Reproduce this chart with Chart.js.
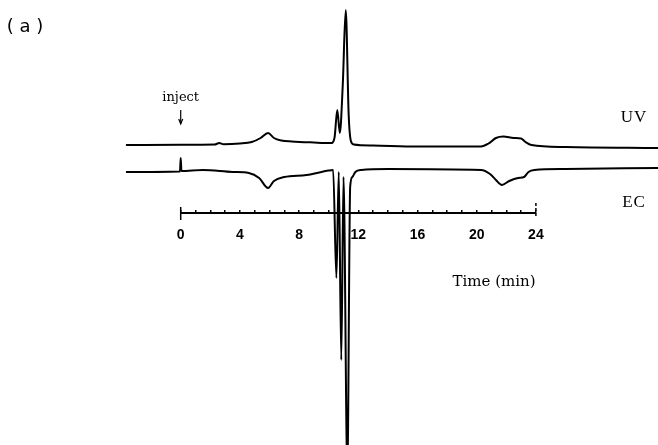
<!DOCTYPE html>
<html>
<head>
<meta charset="utf-8">
<script src="https://cdn.jsdelivr.net/npm/chart.js@4.4.1/dist/chart.umd.min.js"></script>
<style>
  html, body { margin: 0; padding: 0; background: #fff; }
  #wrap { width: 658px; height: 445px; position: relative; }
</style>
</head>
<body>
<div id="wrap"><canvas id="chart"></canvas></div>
<script>
// UV trace (time in min, deflection upward)
const uvTime = [-3.7, 0, 2.3, 2.6, 2.9, 4.0, 4.8, 5.4, 5.9, 6.3, 6.8, 7.5, 9.0, 10.2, 10.4, 10.58, 10.75, 10.95, 11.15, 11.35, 11.5, 11.7, 13, 16, 20.3, 20.8, 21.3, 21.8, 22.5, 23.0, 23.3, 23.7, 26, 32.3];
const uvSignal = [0, 0.3, 0.5, 2, 0.8, 1.5, 3, 7, 12, 7, 4.5, 3.5, 2.5, 2, 8, 35, 12, 60, 135, 30, 4, 0.5, -0.5, -1.5, -1.5, 1.5, 7, 8.5, 7, 6.5, 3, 0, -2, -3];

// EC trace
const ecTime = [-3.7, -0.05, 0, 0.05, 1.5, 3.5, 4.6, 5.3, 5.9, 6.3, 7.0, 8.5, 10.0, 10.3, 10.52, 10.68, 10.85, 11.0, 11.26, 11.45, 11.6, 11.8, 12.2, 14, 20.3, 20.9, 21.3, 21.7, 22.2, 22.8, 23.2, 23.5, 23.9, 26, 32.3];
const ecSignal = [0, 0.5, 14, 1, 2, 0, -1, -6, -16, -9, -5, -3, 1.5, 2, -106, 0, -188, -5, -300, -15, -5, 0, 2, 3, 2, -2, -8, -13, -9, -6, -5, 0, 2, 3, 4];

// time axis
const tickValues = [0, 1, 2, 3, 4, 5, 6, 7, 8, 9, 10, 11, 12, 13, 14, 15, 16, 17, 18, 19, 20, 21, 22, 23, 24];
const labelEvery = 4;
const axisEnds = [0, 24];

// vertical placement of the traces (chart units)
const uvOffset = 300;
const ecOffset = 273;
const axisLevel = 232;

const toPoints = (t, s, off) => t.map((x, i) => ({ x: x, y: s[i] + off }));

const lineStyle = {
  borderColor: "#000",
  borderWidth: 2,
  pointRadius: 0,
  tension: 0,
  fill: false,
};

const datasets = [
  {
    ...lineStyle,
    label: "UV",
    cubicInterpolationMode: "monotone",
    data: toPoints(uvTime, uvSignal, uvOffset),
  },
  {
    ...lineStyle,
    label: "EC",
    cubicInterpolationMode: "monotone",
    data: toPoints(ecTime, ecSignal, ecOffset),
  },
  {
    ...lineStyle,
    label: "axis",
    data: [
      { x: axisEnds[0], y: axisLevel },
      { x: axisEnds[1], y: axisLevel },
    ],
  },
  {
    ...lineStyle,
    label: "start tick",
    borderWidth: 1.5,
    data: [
      { x: axisEnds[0], y: axisLevel + 6 },
      { x: axisEnds[0], y: axisLevel - 7 },
    ],
  },
  {
    ...lineStyle,
    label: "end tick",
    borderWidth: 1.5,
    borderDash: [3, 2],
    data: [
      { x: axisEnds[1], y: axisLevel + 10 },
      { x: axisEnds[1], y: axisLevel - 3 },
    ],
  },
];

// Labels and the inject arrow
const annotate = {
  id: "annotate",
  afterDraw(chart) {
    const ctx = chart.ctx;
    const xs = chart.scales.x;
    const ys = chart.scales.y;
    ctx.save();
    ctx.fillStyle = "#000";
    ctx.strokeStyle = "#000";
    ctx.textAlign = "center";
    ctx.textBaseline = "middle";

    // (a)
    ctx.font = '18px "DejaVu Sans"';
    ctx.fillText("( a )", 25, 27);

    // inject + arrow
    const x0 = xs.getPixelForValue(0);
    ctx.font = '13px "DejaVu Serif"';
    ctx.fillText("inject", x0, 98);
    ctx.lineWidth = 1.2;
    ctx.beginPath();
    ctx.moveTo(x0, 110);
    ctx.lineTo(x0, 124);
    ctx.stroke();
    ctx.beginPath();
    ctx.moveTo(x0 - 2, 119);
    ctx.lineTo(x0, 124);
    ctx.lineTo(x0 + 2, 119);
    ctx.stroke();

    // trace names
    ctx.font = '17px "Liberation Serif"';
    ctx.letterSpacing = "1px";
    ctx.fillText("UV", 634, ys.getPixelForValue(uvOffset) - 27);
    ctx.fillText("EC", 634, ys.getPixelForValue(axisLevel) - 10);

    // axis title
    ctx.font = '15px "DejaVu Serif"';
    ctx.letterSpacing = "0px";
    ctx.fillText("Time (min)", 494, 282);
    ctx.restore();
  },
};

new Chart(document.getElementById("chart"), {
  type: "line",
  data: { datasets: datasets },
  options: {
    responsive: true,
    maintainAspectRatio: false,
    animation: false,
    layout: { padding: 0 },
    plugins: {
      legend: { display: false },
      tooltip: { enabled: false },
    },
    scales: {
      x: {
        type: "linear",
        min: -12.21,
        max: 32.25,
        position: { y: axisLevel },
        border: { display: false },
        grid: {
          drawOnChartArea: false,
          drawTicks: true,
          tickLength: -3,
          color: "#000",
          lineWidth: 1.5,
        },
        afterBuildTicks: (scale) => {
          scale.ticks = tickValues.map((v) => ({ value: v }));
        },
        ticks: {
          autoSkip: false,
          maxRotation: 0,
          padding: 17,
          color: "#000",
          font: { family: "Liberation Sans", size: 14, weight: "bold" },
          callback: (v) => (v % labelEvery === 0 ? String(v) : ""),
        },
      },
      y: {
        display: false,
        min: 0,
        max: 445,
      },
    },
  },
  plugins: [annotate],
});
</script>
</body>
</html>
